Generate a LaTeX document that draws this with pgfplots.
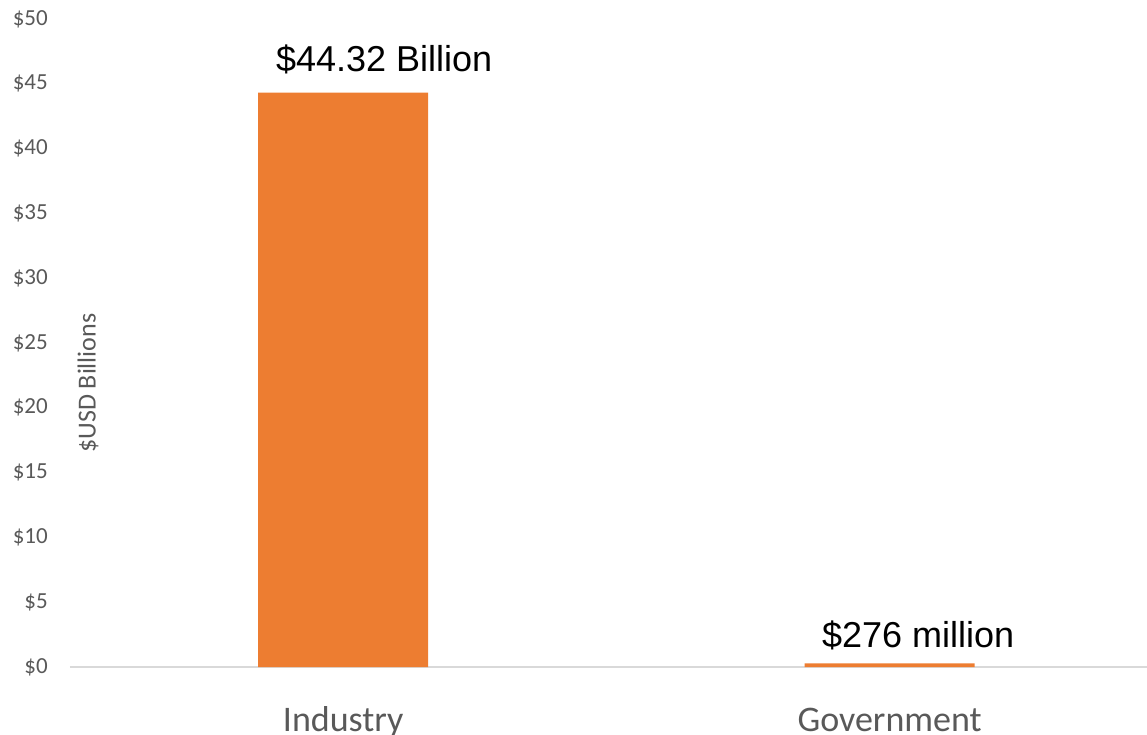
\documentclass[border=0pt]{standalone}
\usepackage{fontspec}
\setmainfont{Carlito}
\newfontfamily\arialfont{Liberation Sans}
\usepackage{pgfplots}
\pgfplotsset{compat=1.18}
\definecolor{barorange}{HTML}{ED7D31}
\definecolor{txtgray}{HTML}{595959}
\definecolor{axgray}{HTML}{D9D9D9}
\begin{document}
\begin{tikzpicture}
\useasboundingbox (-70pt,-67pt) rectangle (1077pt,667pt);
\begin{axis}[
  at={(0pt,0pt)}, anchor=south west,
  scale only axis, width=1077pt, height=648pt,
  xmin=-0.5, xmax=1.471, ymin=0, ymax=50,
  axis x line*=bottom, axis y line*=left,
  y axis line style={draw=none},
  x axis line style={draw=axgray, line width=1.5pt, -},
  tick style={draw=none},
  ytick={0,5,10,15,20,25,30,35,40,45,50},
  yticklabels={\$0,\$5,\$10,\$15,\$20,\$25,\$30,\$35,\$40,\$45,\$50},
  yticklabel style={font=\fontsize{23}{27}\selectfont, text=txtgray, anchor=east, inner sep=0pt, xshift=-22pt},
  xtick={0,1},
  xticklabels={Industry,Government},
  xticklabel style={font=\fontsize{36}{40}\selectfont, text=txtgray, anchor=base, inner sep=0pt, yshift=-60pt},
  ybar, bar width=170pt,
  clip=false,
]
\addplot[ybar, bar width=170pt, fill=barorange, draw=none] coordinates {(0,44.32) (1,0.276)};
\node[font=\arialfont\fontsize{36}{40}\selectfont, anchor=base, inner sep=0pt, xshift=41pt, yshift=21pt] at (axis cs:0,44.32) {\$44.32 Billion};
\node[font=\arialfont\fontsize{36}{40}\selectfont, anchor=base, inner sep=0pt, xshift=28.5pt, yshift=16pt] at (axis cs:1,0.276) {\$276 million};
\node[xshift=18pt, rotate=90, font=\fontsize{26}{30}\selectfont, text=txtgray, inner sep=0pt] at (rel axis cs:0,0.438) {\$USD Billions};
\end{axis}
\end{tikzpicture}
\end{document}
